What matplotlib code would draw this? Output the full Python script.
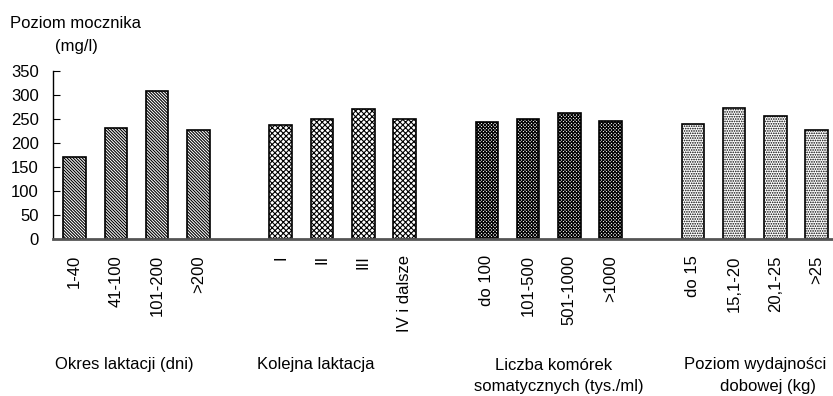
import matplotlib.pyplot as plt

plt.rcParams['font.family'] = ['Liberation Sans', 'DejaVu Sans']
plt.rcParams['hatch.linewidth'] = 0.8

# data
okres_labels = ['1-40', '41-100', '101-200', '>200']
okres_values = [171, 231, 309, 227]
kolejna_labels = ['I', 'II', 'III', 'IV i dalsze']
kolejna_values = [238, 250, 271, 250]
komorki_labels = ['do 100', '101-500', '501-1000', '>1000']
komorki_values = [244, 250, 262, 245]
wydajnosc_labels = ['do 15', '15,1-20', '20,1-25', '>25']
wydajnosc_values = [240, 273, 255, 227]

groups = [(okres_labels, okres_values), (kolejna_labels, kolejna_values),
          (komorki_labels, komorki_values), (wydajnosc_labels, wydajnosc_values)]
hatches = ['\\' * 11, 'x' * 6, 'x' * 10, '.' * 7]

# group captions: (text, x centre px, y centre px)
captions = [('Okres laktacji (dni)', 124, 365),
            ('Kolejna laktacja', 316, 365),
            ('Liczba komórek', 554, 365),
            ('somatycznych (tys./ml)', 559, 387),
            ('Poziom wydajności', 755, 365),
            ('dobowej (kg)', 768, 387)]

fig = plt.figure(figsize=(8.33, 3.96), dpi=100)
ax = fig.add_axes([0.0633, 0.3977, 0.9367, 0.423])

xticks = []
xlabels = []
for g, ((labels, values), hatch) in enumerate(zip(groups, hatches)):
    xs = [g * 5 + i for i in range(len(values))]
    ax.bar(xs, values, width=0.55, color='white', edgecolor='black',
           linewidth=1.2, hatch=hatch)
    xticks += xs
    xlabels += labels

ax.set_xticks(xticks)
ax.set_xticklabels(xlabels, rotation=90, va='top', fontsize=12)
ax.tick_params(axis='x', length=0, pad=12)
ax.set_xlim(-0.534, 18.4)
ax.set_ylim(0, 350)
ax.set_yticks(range(0, 351, 50))
ax.tick_params(axis='y', direction='in', length=5, labelsize=12, pad=10)

ax.spines['top'].set_visible(False)
ax.spines['right'].set_visible(False)
ax.spines['bottom'].set_color('#555555')
ax.spines['bottom'].set_linewidth(2)
ax.spines['left'].set_linewidth(1)

fig.text(10 / 833, 1 - 23 / 396, 'Poziom mocznika', fontsize=12, va='center')
fig.text(55 / 833, 1 - 47 / 396, '(mg/l)', fontsize=12, va='center')

for text, cx, cy in captions:
    fig.text(cx / 833, 1 - cy / 396, text, fontsize=12, ha='center', va='center')

fig.savefig('out.png', dpi=100)
